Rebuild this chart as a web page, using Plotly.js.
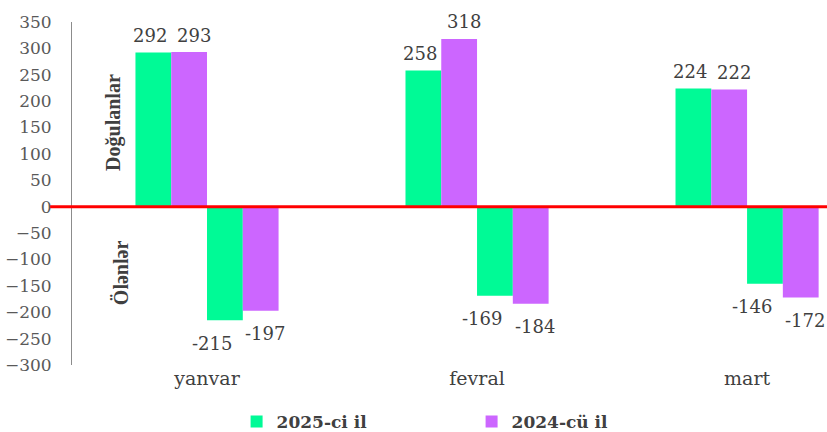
<!DOCTYPE html>
<html>
<head>
<meta charset="utf-8">
<script src="https://cdn.plot.ly/plotly-3.0.1.min.js"></script>
<style>html,body{margin:0;padding:0;background:#fff;}#chart{width:827px;height:432px;}</style>
</head>
<body>
<div id="chart"></div>
<script>
const months = ['yanvar', 'fevral', 'mart'];
const births2025 = [292, 258, 224];
const births2024 = [293, 318, 222];
const deaths2025 = [-215, -169, -146];
const deaths2024 = [-197, -184, -172];
const seriesNames = ['2025-ci il', '2024-cü il'];
const yTicks = [-300, -250, -200, -150, -100, -50, 0, 50, 100, 150, 200, 250, 300, 350];
const sideLabels = ['Doğulanlar', 'Ölənlər'];

const green = '#00FA96';
const purple = '#CC66FF';
const serif = 'DejaVu Serif, serif';
const timesFont = 'Liberation Serif, Times New Roman, serif';
const txtColor = '#404040';

const series = [
  {vals: births2025, color: green, name: seriesNames[0], legend: true, group: 'g25', labelShift: -3},
  {vals: births2024, color: purple, name: seriesNames[1], legend: true, group: 'g24', labelShift: 5},
  {vals: deaths2025, color: green, name: seriesNames[0], legend: false, group: 'g25', labelShift: -13},
  {vals: deaths2024, color: purple, name: seriesNames[1], legend: false, group: 'g24', labelShift: 4}
];

const bargap = 0.47;
const slot = (1 - bargap) / series.length;

const traces = series.map(s => ({
  type: 'bar',
  x: months,
  y: s.vals,
  name: s.name,
  legendgroup: s.group,
  showlegend: s.legend,
  marker: {color: s.color},
  hoverinfo: 'x+y'
}));

const annotations = [];
series.forEach((s, j) => {
  s.vals.forEach((v, i) => {
    annotations.push({
      x: i + (j - (series.length - 1) / 2) * slot,
      y: v,
      xref: 'x', yref: 'y',
      text: String(v),
      showarrow: false,
      xshift: s.labelShift,
      yshift: v >= 0 ? 17 : -23,
      font: {family: serif, size: 18, color: txtColor}
    });
  });
});

annotations.push({
  xref: 'paper', yref: 'paper',
  x: 0.054, y: 0.708,
  xanchor: 'center', yanchor: 'middle',
  text: '<b>' + sideLabels[0] + '</b>',
  textangle: -90, showarrow: false,
  font: {family: timesFont, size: 20, color: txtColor}
});
annotations.push({
  xref: 'paper', yref: 'paper',
  x: 0.065, y: 0.268,
  xanchor: 'center', yanchor: 'middle',
  text: '<b>' + sideLabels[1] + '</b>',
  textangle: -90, showarrow: false,
  font: {family: timesFont, size: 20, color: txtColor}
});

const layout = {
  width: 827, height: 432,
  margin: {l: 72, r: 0, t: 22, b: 67, autoexpand: false},
  paper_bgcolor: '#fff',
  plot_bgcolor: '#fff',
  barmode: 'group',
  bargap: bargap,
  bargroupgap: 0,
  xaxis: {
    type: 'category',
    range: [-0.5, 2.296],
    showgrid: false,
    zeroline: false,
    showline: false,
    ticks: '',
    tickfont: {family: serif, size: 19, color: txtColor},
    fixedrange: true
  },
  yaxis: {
    range: [-300, 350],
    tickvals: yTicks,
    showgrid: false,
    zeroline: false,
    showline: true,
    linecolor: '#8c8c8c',
    linewidth: 1,
    ticks: '',
    ticklabelstandoff: 16,
    tickfont: {family: serif, size: 17, color: '#595959'},
    fixedrange: true
  },
  shapes: [{
    type: 'line', xref: 'paper', yref: 'y',
    x0: -0.029, x1: 1, y0: 0, y1: 0,
    line: {color: '#FF0000', width: 3}
  }],
  annotations: annotations,
  showlegend: true,
  legend: {
    orientation: 'h',
    x: 0.218, xanchor: 'left',
    yref: 'container',
    y: 0.023, yanchor: 'middle',
    entrywidth: 190, entrywidthmode: 'pixels',
    itemwidth: 30,
    font: {family: serif, size: 17, color: txtColor, weight: 'bold'},
    bgcolor: 'rgba(0,0,0,0)'
  }
};

Plotly.newPlot('chart', traces, layout, {displayModeBar: false, staticPlot: true});
</script>
</body>
</html>
